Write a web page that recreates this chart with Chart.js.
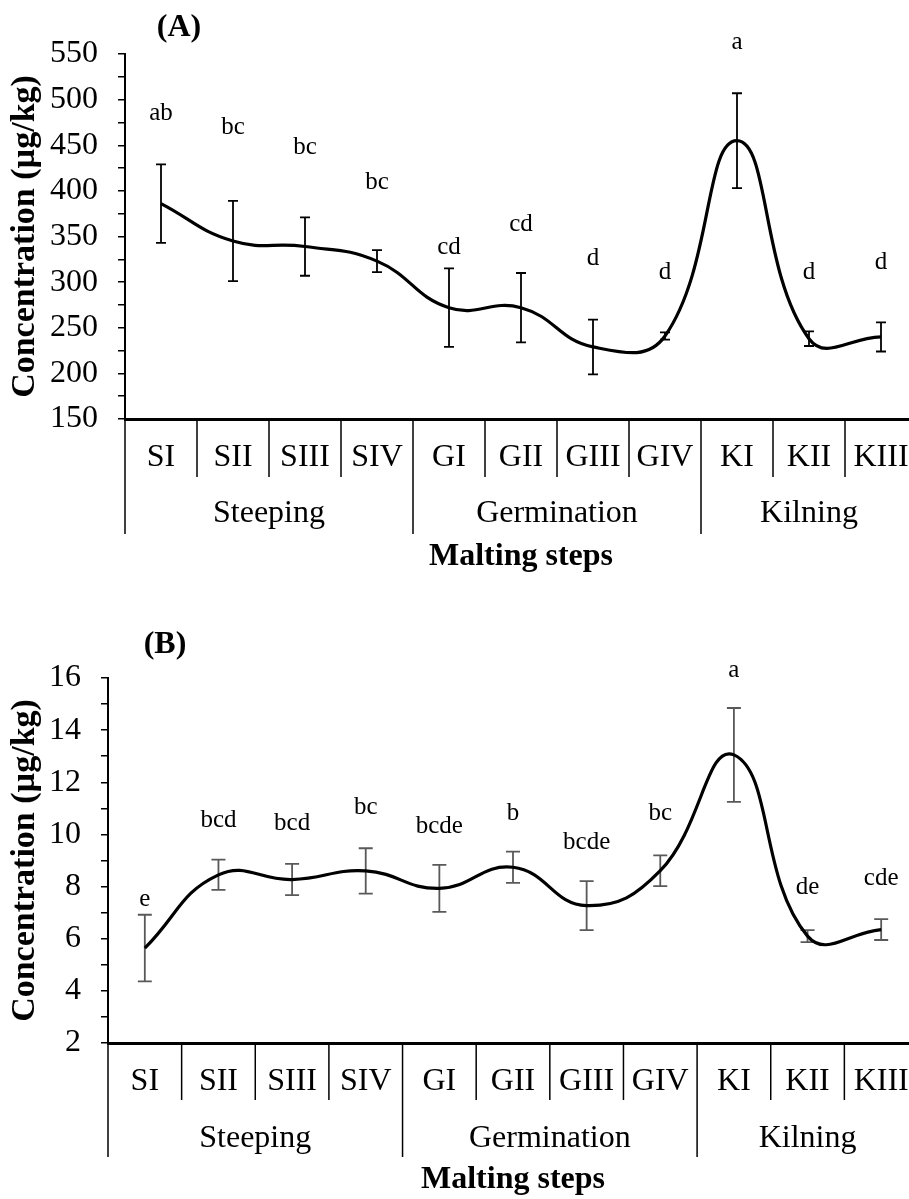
<!DOCTYPE html>
<html>
<head>
<meta charset="utf-8">
<script src="https://cdn.jsdelivr.net/npm/chart.js@4.4.1/dist/chart.umd.min.js"></script>
<style>
  html, body { margin: 0; padding: 0; background: #fff; overflow: hidden; width: 909px; height: 1199px; }
  .wrap { position: absolute; left: 0; width: 930px; }
  #wrapA { top: 0; height: 600px; }
  #wrapB { top: 600px; height: 599px; }
</style>
</head>
<body>
<div class="wrap" id="wrapA"><canvas id="chartA" width="930" height="600"></canvas></div>
<div class="wrap" id="wrapB"><canvas id="chartB" width="930" height="599"></canvas></div>
<script>
// categorias e grupos
const steps = ['SI', 'SII', 'SIII', 'SIV', 'GI', 'GII', 'GIII', 'GIV', 'KI', 'KII', 'KIII'];
const stages = ['Steeping', 'Germination', 'Kilning'];
const stageSizes = [4, 4, 3];

// painel (A)
const meanA = [386, 345, 339, 323, 272, 272, 229, 241, 455, 238, 240];
const sdA = [43, 44, 32, 12, 43, 38, 30, 4, 52, 8, 16];
const lettersA = ['ab', 'bc', 'bc', 'bc', 'cd', 'cd', 'd', 'd', 'a', 'd', 'd'];
const letterYA = [485, 469, 448, 409, 338, 363, 326, 311, 563, 311, 322];

// painel (B)
const meanB = [5.64, 8.45, 8.27, 8.6, 7.93, 8.74, 7.27, 8.61, 13.05, 6.1, 6.35];
const sdB = [1.28, 0.58, 0.6, 0.87, 0.9, 0.6, 0.94, 0.59, 1.8, 0.23, 0.4];
const lettersB = ['e', 'bcd', 'bcd', 'bc', 'bcde', 'b', 'bcde', 'bc', 'a', 'de', 'cde'];
const letterYB = [7.52, 10.55, 10.43, 11.05, 10.3, 10.82, 9.7, 10.82, 16.3, 7.95, 8.33];

const FONT = '"Liberation Serif", "Times New Roman", serif';

// Plugin: barras de erro, letras, linhas e grupos abaixo do eixo
const decor = {
  id: 'decor',
  beforeDatasetsDraw(chart, args, o) {
    const { ctx, scales: { x, y } } = chart;
    ctx.save();
    ctx.strokeStyle = o.barColor;
    ctx.lineWidth = o.barWidth;
    o.mean.forEach((m, i) => {
      const px = x.getPixelForValue(i);
      const top = y.getPixelForValue(m + o.sd[i]);
      const bot = y.getPixelForValue(m - o.sd[i]);
      ctx.beginPath();
      ctx.moveTo(px, top); ctx.lineTo(px, bot);
      ctx.moveTo(px - o.cap, top); ctx.lineTo(px + o.cap, top);
      ctx.moveTo(px - o.cap, bot); ctx.lineTo(px + o.cap, bot);
      ctx.stroke();
    });
    ctx.restore();
  },
  afterDraw(chart, args, o) {
    const { ctx, scales: { x, y } } = chart;
    ctx.save();
    // letras de significância
    ctx.fillStyle = '#000';
    ctx.font = '25px ' + FONT;
    ctx.textAlign = 'center';
    ctx.textBaseline = 'middle';
    o.letters.forEach((t, i) => {
      ctx.fillText(t, x.getPixelForValue(i), y.getPixelForValue(o.letterY[i]));
    });

    // separadores
    const half = (x.getPixelForValue(1) - x.getPixelForValue(0)) / 2;
    const base = x.top;
    ctx.strokeStyle = '#000';
    ctx.lineWidth = 1.5;
    const starts = [0];
    stageSizes.forEach(n => starts.push(starts[starts.length - 1] + n));
    for (let i = 0; i <= steps.length; i++) {
      const bx = x.getPixelForValue(i) - half;
      const len = starts.includes(i) ? o.longLen : o.shortLen;
      ctx.beginPath();
      ctx.moveTo(bx, base);
      ctx.lineTo(bx, base + len);
      ctx.stroke();
    }

    // nomes dos grupos
    ctx.font = '32px ' + FONT;
    stages.forEach((s, g) => {
      const a = x.getPixelForValue(starts[g]) - half;
      const b = x.getPixelForValue(starts[g + 1]) - half;
      ctx.fillText(s, (a + b) / 2, base + o.groupOffset);
    });

    // rótulo do painel
    ctx.font = 'bold 32px ' + FONT;
    ctx.fillText(o.panel, o.panelX, o.panelY);
    ctx.restore();
  }
};

function buildChart(id, mean, sd, letters, letterY, cfg) {
  const ctx = document.getElementById(id).getContext('2d');
  return new Chart(ctx, {
    type: 'line',
    data: {
      labels: steps,
      datasets: [{
        data: mean,
        borderColor: '#000',
        borderWidth: 3.2,
        tension: 0.45,
        pointRadius: 0,
        fill: false
      }]
    },
    options: {
      responsive: false,
      animation: false,
      layout: { padding: { top: cfg.padTop, right: cfg.padRight, left: 0, bottom: 0 } },
      plugins: {
        legend: { display: false },
        tooltip: { enabled: false },
        decor: {
          mean: mean, sd: sd, letters: letters, letterY: letterY,
          barColor: cfg.barColor, barWidth: 1.8, cap: cfg.cap,
          shortLen: cfg.shortLen, longLen: cfg.longLen, groupOffset: cfg.groupOffset,
          panel: cfg.panel, panelX: cfg.panelX, panelY: cfg.panelY
        }
      },
      scales: {
        x: {
          offset: true,
          border: { color: '#000', width: 3 },
          grid: { display: false, drawTicks: false, tickLength: 0 },
          ticks: {
            color: '#000', padding: 19, maxRotation: 0, autoSkip: false,
            font: { family: FONT, size: 32 }
          },
          title: {
            display: true, text: 'Malting steps', color: '#000',
            font: { family: FONT, size: 32, weight: 'bold' },
            padding: { top: 0, bottom: cfg.xTitlePad }
          },
          afterFit(s) { s.height = cfg.xHeight; }
        },
        y: {
          min: cfg.min, max: cfg.max,
          border: { color: '#000', width: 2 },
          grid: { drawOnChartArea: false, drawTicks: true, tickLength: 7, color: '#000', lineWidth: 1.5 },
          ticks: {
            stepSize: cfg.step, padding: 20, color: '#000', autoSkip: false,
            font: { family: FONT, size: 32 },
            callback: v => (v % cfg.major === 0 ? v : '')
          },
          title: {
            display: true, text: 'Concentration (µg/kg)', color: '#000',
            font: { family: FONT, size: 34, weight: 'bold' },
            padding: { top: 5, bottom: 0 }
          },
          afterFit(s) { s.width = cfg.yWidth; }
        }
      }
    },
    plugins: [decor]
  });
}

buildChart('chartA', meanA, sdA, lettersA, letterYA, {
  min: 150, max: 550, step: 25, major: 50,
  padTop: 54, padRight: 13, yWidth: 125, xHeight: 181, xTitlePad: 24,
  barColor: '#000', cap: 5, shortLen: 58, longLen: 115, groupOffset: 95,
  panel: '(A)', panelX: 179, panelY: 28
});

buildChart('chartB', meanB, sdB, lettersB, letterYB, {
  min: 2, max: 16, step: 1, major: 2,
  padTop: 78, padRight: 12, yWidth: 108, xHeight: 156, xTitlePad: 0,
  barColor: '#595959', cap: 7, shortLen: 57, longLen: 114, groupOffset: 96,
  panel: '(B)', panelX: 165, panelY: 45
});
</script>
</body>
</html>
